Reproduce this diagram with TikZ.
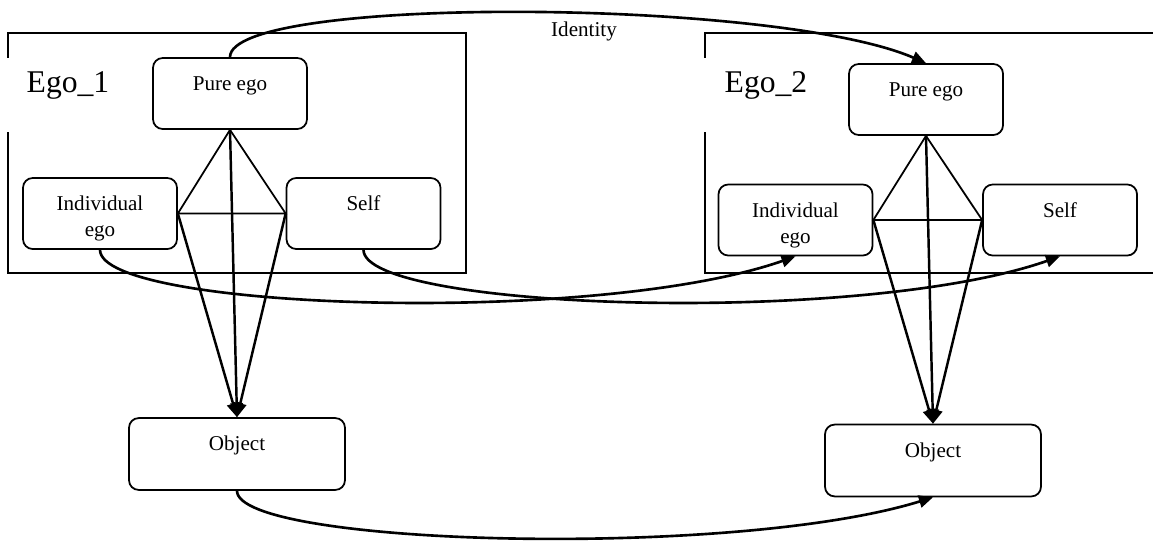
\documentclass[tikz,border=0pt]{standalone}
\usepackage{fontspec}
\setmainfont{Liberation Serif}
\usetikzlibrary{arrows.meta}

\begin{document}
\begin{tikzpicture}[x=0.02cm, y=-0.02cm,
    every node/.style={font=\fontsize{12}{14.8}\selectfont},
    egobox/.style={draw, line width=1pt, rounded corners=5.5pt, minimum width=3.08cm, align=center, inner sep=0pt, text height=18.5pt, text depth=21.9pt},
    twoline/.style={egobox, text height=33.3pt, text depth=7.1pt},
    objbox/.style={egobox, minimum width=4.32cm, text depth=22.4pt},
    frame/.style={draw, line width=1pt, minimum height=4.8cm, inner sep=0pt},
    egolabel/.style={fill=white, inner sep=0pt, minimum width=2.6cm, text height=19.4pt, text depth=22.7pt, font=\fontsize{18}{21}\selectfont},
    link/.style={line width=1pt},
    flow/.style={line width=1.4pt, -{Triangle[length=8pt,width=7pt]}},
    curve/.style={line width=1.5pt, -{Triangle[length=8pt,width=7pt]}}]
  \useasboundingbox (0,0) rectangle (1153,541);
  \clip (0,0) rectangle (1153,541);
  \node[frame, minimum width=9.16cm] (f1) at (237,153) {};
  \node[frame, minimum width=9.2cm] (f2) at (935,153) {};
  \node[egolabel] (l1) at (68,95) {Ego\_1};
  \node[egolabel] (l2) at (766,95) {Ego\_2};
  \node (id) at (584,31) {Identity};

  \node[egobox] (pe1) at (230,93.5) {Pure ego};
  \node[twoline] (ie1) at (100,213.5) {Individual\\ego};
  \node[egobox] (se1) at (363.5,213.5) {Self};
  \node[objbox] (ob1) at (237,454) {Object};

  \node[egobox] (pe2) at (926,99.5) {Pure ego};
  \node[twoline] (ie2) at (795.5,220) {Individual\\ego};
  \node[egobox] (se2) at (1060,220) {Self};
  \node[objbox] (ob2) at (933,460.5) {Object};

  \draw[link] (pe1.south) -- (ie1.east) -- (se1.west) -- (pe1.south);
  \draw[link] (pe2.south) -- (ie2.east) -- (se2.west) -- (pe2.south);
  \draw[flow] (ie1.east) -- (ob1.north); \draw[flow] (pe1.south) -- (ob1.north);
  \draw[flow] (se1.west) -- (ob1.north);
  \draw[flow] (ie2.east) -- (ob2.north); \draw[flow] (pe2.south) -- (ob2.north);
  \draw[flow] (se2.west) -- (ob2.north);

  \draw[curve] (pe1.north) .. controls +(0,-62) and +(-150,-65) .. (pe2.north);
  \draw[curve] (ie1.south) .. controls +(0,60) and +(-200,70) .. (ie2.south);
  \draw[curve] (se1.south) .. controls +(0,60) and +(-200,70) .. (se2.south);
  \draw[curve] (ob1.south) .. controls +(0,55) and +(-200,62) .. (ob2.south);
\end{tikzpicture}
\end{document}
